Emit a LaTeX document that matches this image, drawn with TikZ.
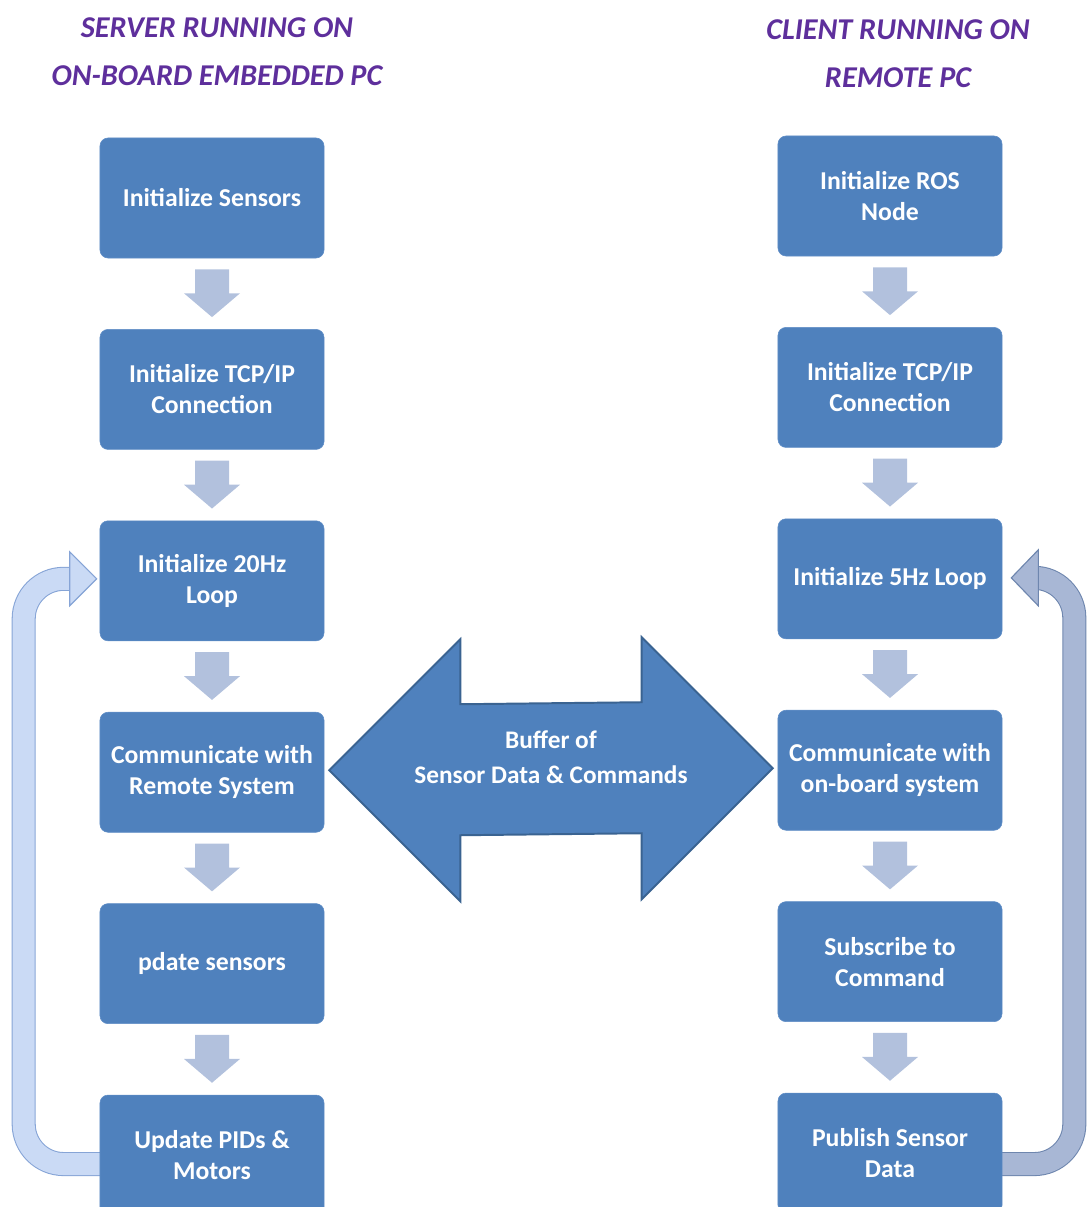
\documentclass[tikz,border=0pt]{standalone}
\usepackage{fontspec}
\setmainfont{Carlito}
\usepackage{tikz}
\usetikzlibrary{positioning,calc,backgrounds}

\definecolor{boxblue}{HTML}{4F81BD}
\definecolor{boxedge}{HTML}{5F8DC6}
\definecolor{stepgrey}{HTML}{B2C1DD}
\definecolor{bufferedge}{HTML}{3A6391}
\definecolor{titlepurple}{HTML}{5E2F9C}
\definecolor{loopfillA}{HTML}{CADAF5}
\definecolor{loopedgeA}{HTML}{86A4D6}
\definecolor{loopfillB}{HTML}{A8B7D5}
\definecolor{loopedgeB}{HTML}{6E86AE}

\tikzset{
  stepbox/.style={draw=boxedge, fill=boxblue, rounded corners=0.2cm,
    minimum width=5.6cm, minimum height=3cm, align=center, text=white,
    font=\bfseries\fontsize{18.3}{22}\selectfont},
  titletext/.style={align=center, text=titlepurple,
    font=\bfseries\itshape\fontsize{21.5}{34}\selectfont},
  buffertext/.style={align=center, text=white,
    font=\bfseries\fontsize{18}{25.5}\selectfont},
  stepfill/.style={fill=stepgrey},
  bufferarrow/.style={fill=boxblue, draw=bufferedge, line width=1.4pt, line join=miter},
}

% block arrow between two boxes of one column
\newcommand{\stepdown}[2]{%
  \fill[stepfill] ($(#1.south)+(-17,11)$) -- ($(#1.south)+(17,11)$)
    -- ($(#1.south)+(17,35)$) -- ($(#1.south)+(28,35)$)
    -- ($(#2.north)+(0,-12)$)
    -- ($(#1.south)+(-28,35)$) -- ($(#1.south)+(-17,35)$) -- cycle;
}

\begin{document}
\begin{tikzpicture}[x=0.025cm, y=-0.025cm, node distance=1.77cm]
  \clip (0,0) rectangle (1086,1207);

  % Titles
  \node[titletext] (servertitle) at (217,52) {SERVER RUNNING ON\\ON-BOARD EMBEDDED PC};
  \node[titletext] (clienttitle) at (898,54) {CLIENT RUNNING ON\\REMOTE PC};

  % Server column
  \node[stepbox] (l1) at (212,198) {Initialize Sensors};
  \node[stepbox, below=of l1] (l2) {Initialize TCP/IP\\Connection};
  \node[stepbox, below=of l2] (l3) {Initialize 20Hz\\Loop};
  \node[stepbox, below=of l3] (l4) {Communicate with\\Remote System};
  \node[stepbox, below=of l4] (l5) {pdate sensors};
  \node[stepbox, below=of l5] (l6) {Update PIDs \&\\Motors};

  % Client column
  \node[stepbox] (r1) at (890,196) {Initialize ROS\\Node};
  \node[stepbox, below=of r1] (r2) {Initialize TCP/IP\\Connection};
  \node[stepbox, below=of r2] (r3) {Initialize 5Hz Loop};
  \node[stepbox, below=of r3] (r4) {Communicate with\\on-board system};
  \node[stepbox, below=of r4] (r5) {Subscribe to\\Command};
  \node[stepbox, below=of r5] (r6) {Publish Sensor\\Data};

  \foreach \a/\b in {l1/l2, l2/l3, l3/l4, l4/l5, l5/l6, r1/r2, r2/r3, r3/r4, r4/r5, r5/r6}
    \stepdown{\a}{\b};

  \begin{scope}[on background layer]
    % Server loop back
    \draw[loopedgeA, line width=17.1pt, rounded corners=1cm]
      ($(l6.west)+(5,9)$) -- ++(-81,0) -- ($(l3.west)+(-76,-2)$) -- ($(l3.west)+(-30,-2)$);
    \draw[loopfillA, line width=15.6pt, rounded corners=1cm]
      ($(l6.west)+(5,9)$) -- ++(-81,0) -- ($(l3.west)+(-76,-2)$) -- ($(l3.west)+(-29,-2)$);
    \draw[fill=loopfillA, draw=loopedgeA, line width=0.8pt]
      ($(l3.west)+(-30,-29)$) -- ($(l3.west)+(-3,-2)$) -- ($(l3.west)+(-30,25)$) -- cycle;

    % Client loop back
    \draw[loopedgeB, line width=17.1pt, rounded corners=1cm]
      ($(r6.east)+(-5,11)$) -- ++(77,0) -- ($(r3.east)+(72,-1)$) -- ($(r3.east)+(36,-1)$);
    \draw[loopfillB, line width=15.6pt, rounded corners=1cm]
      ($(r6.east)+(-5,11)$) -- ++(77,0) -- ($(r3.east)+(72,-1)$) -- ($(r3.east)+(35,-1)$);
    \draw[fill=loopfillB, draw=loopedgeB, line width=0.8pt]
      ($(r3.east)+(36,-29)$) -- ($(r3.east)+(9,-1)$) -- ($(r3.east)+(36,27)$) -- cycle;
  \end{scope}

  % Buffer between both sides
  \coordinate (bl) at ($(l4.east)+(5,-2)$);
  \coordinate (br) at ($(r4.west)+(-5,-2)$);
  \draw[bufferarrow] (bl) -- ($(bl)+(131,-131)$) -- ($(bl)+(131,-66)$)
    -- ($(br)+(-131,-66)$) -- ($(br)+(-131,-131)$) -- (br)
    -- ($(br)+(-131,131)$) -- ($(br)+(-131,65)$)
    -- ($(bl)+(131,65)$) -- ($(bl)+(131,131)$) -- cycle;
  \node[buffertext] (buffer) at ($($(bl)!0.5!(br)$)+(0,-12)$) {Buffer of\\Sensor Data \& Commands};
\end{tikzpicture}
\end{document}
